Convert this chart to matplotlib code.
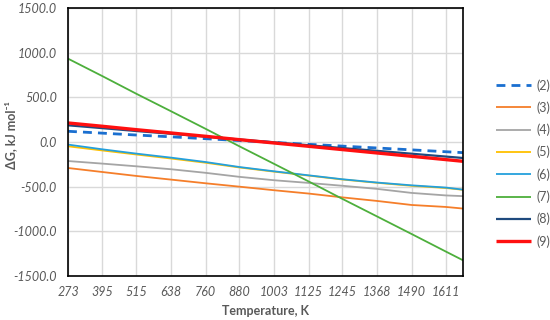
import matplotlib
matplotlib.use("Agg")
import matplotlib.pyplot as plt

temps = [273, 395, 515, 638, 760, 880, 1003, 1125, 1245, 1368, 1490, 1611, 1672]
tick_labels = ["273", "395", "515", "638", "760", "880", "1003", "1125", "1245", "1368", "1490", "1611"]

s2 = [120, 99, 78, 58, 37, 16, -5, -26, -46, -67, -88, -109, -119]
s3 = [-291, -336, -380, -421, -462, -500, -540, -577, -620, -660, -705, -727, -745]
s4 = [-213, -242, -272, -305, -345, -390, -428, -458, -490, -525, -570, -598, -606]
s5 = [-48, -95, -140, -185, -232, -285, -332, -376, -420, -457, -490, -515, -535]
s6 = [-29, -82, -130, -175, -224, -280, -328, -373, -417, -454, -485, -510, -533]
s7 = [933, 737, 540, 344, 148, -48, -245, -441, -637, -834, -1030, -1226, -1324]
s8 = [187, 155, 123, 92, 60, 28, -4, -36, -68, -99, -131, -163, -179]
s9 = [213, 176, 138, 101, 64, 26, -11, -48, -85, -123, -160, -197, -216]

names = ["(2)", "(3)", "(4)", "(5)", "(6)", "(7)", "(8)", "(9)"]

text_gray = "#595959"
fig = plt.figure(figsize=(5.5, 3.2), dpi=100)
ax = fig.add_axes([68/550, 1-276/320, (463-68)/550, (276-8)/320])

styles = [
    (s2, dict(color="#1A6FD0", lw=2.0, ls=(0, (3.2, 2.2)))),
    (s3, dict(color="#F57E2A", lw=1.3)),
    (s4, dict(color="#A5A5A5", lw=1.3)),
    (s5, dict(color="#FFC000", lw=1.3)),
    (s6, dict(color="#24A0DC", lw=1.3)),
    (s7, dict(color="#4DAF3C", lw=1.3)),
    (s8, dict(color="#1F4A7E", lw=1.6)),
    (s9, dict(color="#FF1010", lw=2.4)),
]
for (vals, st), name in zip(styles, names):
    ax.plot(temps, vals, label=name, solid_capstyle="butt", **st)

ax.set_xlim(temps[0], temps[-1])
ax.set_ylim(-1500, 1500)
ax.set_xticks(temps[:-1])
ax.set_xticklabels(tick_labels)
ax.set_yticks([-1500, -1000, -500, 0, 500, 1000, 1500])
ax.set_yticklabels([f"{v:.1f}" for v in [-1500, -1000, -500, 0, 500, 1000, 1500]])
ax.grid(True, color="#D9D9D9", lw=1.0)
ax.set_axisbelow(True)
for sp in ax.spines.values():
    sp.set_color("black")
    sp.set_linewidth(1.2)
ax.tick_params(axis="y", length=0, pad=8, labelsize=9, labelcolor=text_gray)
ax.tick_params(axis="x", length=0, pad=7, labelsize=9, labelcolor=text_gray)
for lab in ax.get_xticklabels() + ax.get_yticklabels():
    lab.set_fontstyle("italic")
    lab.set_family("Lato")

ax.set_xlabel("Temperature, K", fontsize=9, color=text_gray, fontweight="bold", family="Lato")
ax.set_ylabel("ΔG, kJ mol⁻¹", fontsize=9, color=text_gray, fontweight="bold", family="Lato")
ax.xaxis.set_label_coords((265-68)/395, -(305-276)/268)
ax.yaxis.set_label_coords(-(68-17)/395, (276-135)/268)

leg = fig.legend(loc="upper left", bbox_to_anchor=(496/550, 1-79/320), frameon=False,
                 handlelength=2.8, labelspacing=0.78, borderpad=0, borderaxespad=0,
                 handletextpad=0.45, prop={"family": "Lato", "size": 9})
for t in leg.get_texts():
    t.set_color(text_gray)

fig.savefig("out.png", dpi=100)
